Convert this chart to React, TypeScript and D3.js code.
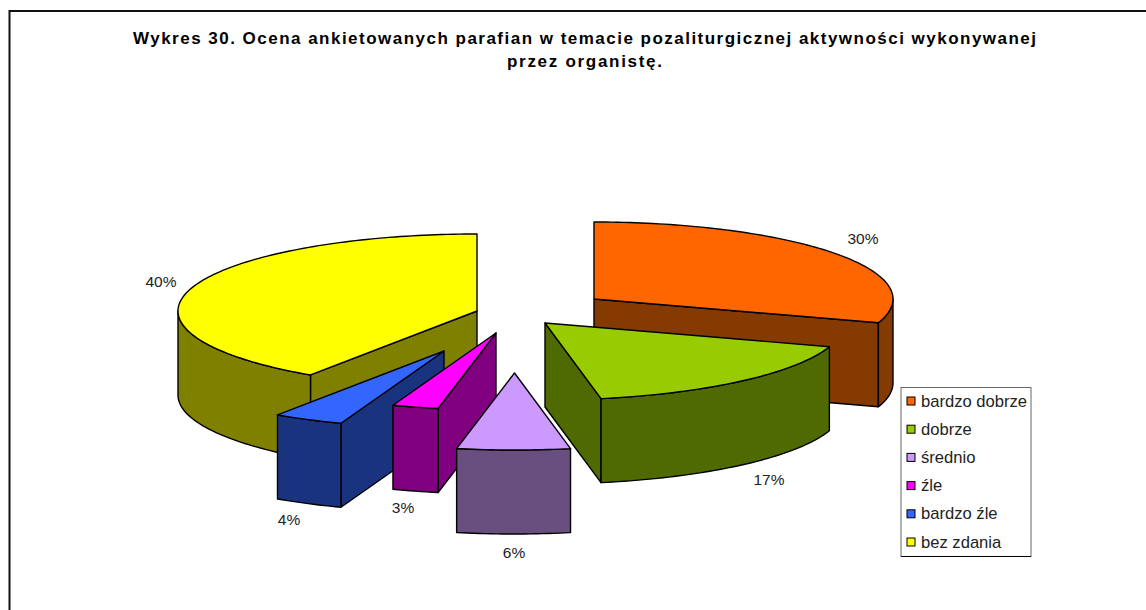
import React from "react";
import * as d3 from "d3";

const categories = ["bardzo dobrze", "dobrze", "średnio", "źle", "bardzo źle", "bez zdania"];
const shares = [30, 17, 6.1, 2.5, 3.8, 40.6];
const percentLabels = ["30%", "17%", "6%", "3%", "4%", "40%"];
const topColors = ["#FF6600", "#99CC00", "#CC99FF", "#FF00FF", "#3366FF", "#FFFF00"];
const wallColors = ["#843A00", "#4F6A00", "#684F80", "#800080", "#19337F", "#808000"];

// Layout of the exploded, tilted pie
const apexX = [594, 545, 514.5, 496, 444, 477];
const apexY = [299, 323, 373, 333, 351, 311];
const labelX = [863, 769, 514, 403, 289, 161];
const labelY = [244, 485, 558, 513, 525, 287];
const paintOrder = [5, 0, 1, 4, 3, 2];
const RX = 299;
const RY = 77;
const DEPTH = 84;
const W = 1146;
const H = 610;

const pieLayout = d3.pie<number>().sort(null).startAngle(0).endAngle(2 * Math.PI);
const line = d3.line<[number, number]>().curve(d3.curveLinear);

type P = [number, number];

export default function App() {
  const arcs = pieLayout(shares);
  const rim = (i: number, a: number, dz = 0): P => [
    apexX[i] + RX * Math.sin(a),
    apexY[i] - RY * Math.cos(a) + dz,
  ];
  const sample = (a0: number, a1: number) => {
    const n = Math.max(2, Math.ceil(Math.abs(a1 - a0) / 0.02));
    return d3.range(n + 1).map((k) => a0 + ((a1 - a0) * k) / n);
  };

  return (
    <svg
      width={W}
      height={H}
      style={{ position: "absolute", left: 0, top: 0, background: "#fff" }}
      fontFamily="'Liberation Sans', Arial, sans-serif"
    >
      <path d={`M9.5 ${H + 5}V11H${W + 5}`} fill="none" stroke="#111" strokeWidth={2} />
      <text x={133} y={44} fontSize={17} fontWeight="bold" fill="#000" textLength={903} lengthAdjust="spacing">
        Wykres 30. Ocena ankietowanych parafian w temacie pozaliturgicznej aktywności wykonywanej
      </text>
      <text x={507} y={67} fontSize={17} fontWeight="bold" fill="#000" textLength={155} lengthAdjust="spacing">
        przez organistę.
      </text>

      {paintOrder.map((i) => {
        const { startAngle: a0, endAngle: a1 } = arcs[i];
        const apex: P = [apexX[i], apexY[i]];
        const apexLow: P = [apexX[i], apexY[i] + DEPTH];
        const faces: P[][] = [];
        if (Math.sin(a0) < -1e-6) {
          faces.push([apex, rim(i, a0), rim(i, a0, DEPTH), apexLow]);
        }
        if (Math.sin(a1) > 1e-6) {
          faces.push([apex, rim(i, a1), rim(i, a1, DEPTH), apexLow]);
        }
        const w0 = Math.max(a0, Math.PI / 2);
        const w1 = Math.min(a1, (3 * Math.PI) / 2);
        const wall: P[] =
          w1 > w0
            ? [
                ...sample(w0, w1).map((a) => rim(i, a)),
                ...sample(w1, w0).map((a) => rim(i, a, DEPTH)),
              ]
            : [];
        const top: P[] = [apex, ...sample(a0, a1).map((a) => rim(i, a))];
        return (
          <g key={categories[i]} stroke="#000" strokeWidth={1.4} strokeLinejoin="round">
            {faces.map((f, k) => (
              <path key={k} d={line(f) + "Z"} fill={wallColors[i]} />
            ))}
            {wall.length > 0 && <path d={line(wall) + "Z"} fill={wallColors[i]} />}
            <path d={line(top) + "Z"} fill={topColors[i]} />
          </g>
        );
      })}

      {percentLabels.map((t, i) => (
        <text key={t} x={labelX[i]} y={labelY[i]} fontSize={15.5} textAnchor="middle" fill="#222">
          {t}
        </text>
      ))}

      <rect x={901} y={387.5} width={130} height={169} fill="#fff" stroke="#666" strokeWidth={1} />
      <path d="M901 556.5H1031" stroke="#000" strokeWidth={1} />
      {categories.map((c, i) => {
        const y = d3.scaleLinear().domain([0, 5]).range([401, 542])(i);
        return (
          <g key={c}>
            <rect x={907} y={y - 4} width={8} height={8} fill={topColors[i]} stroke="#000" strokeWidth={1} />
            <text x={921} y={y + 5.5} fontSize={16.6} fill="#222">
              {c}
            </text>
          </g>
        );
      })}
    </svg>
  );
}
